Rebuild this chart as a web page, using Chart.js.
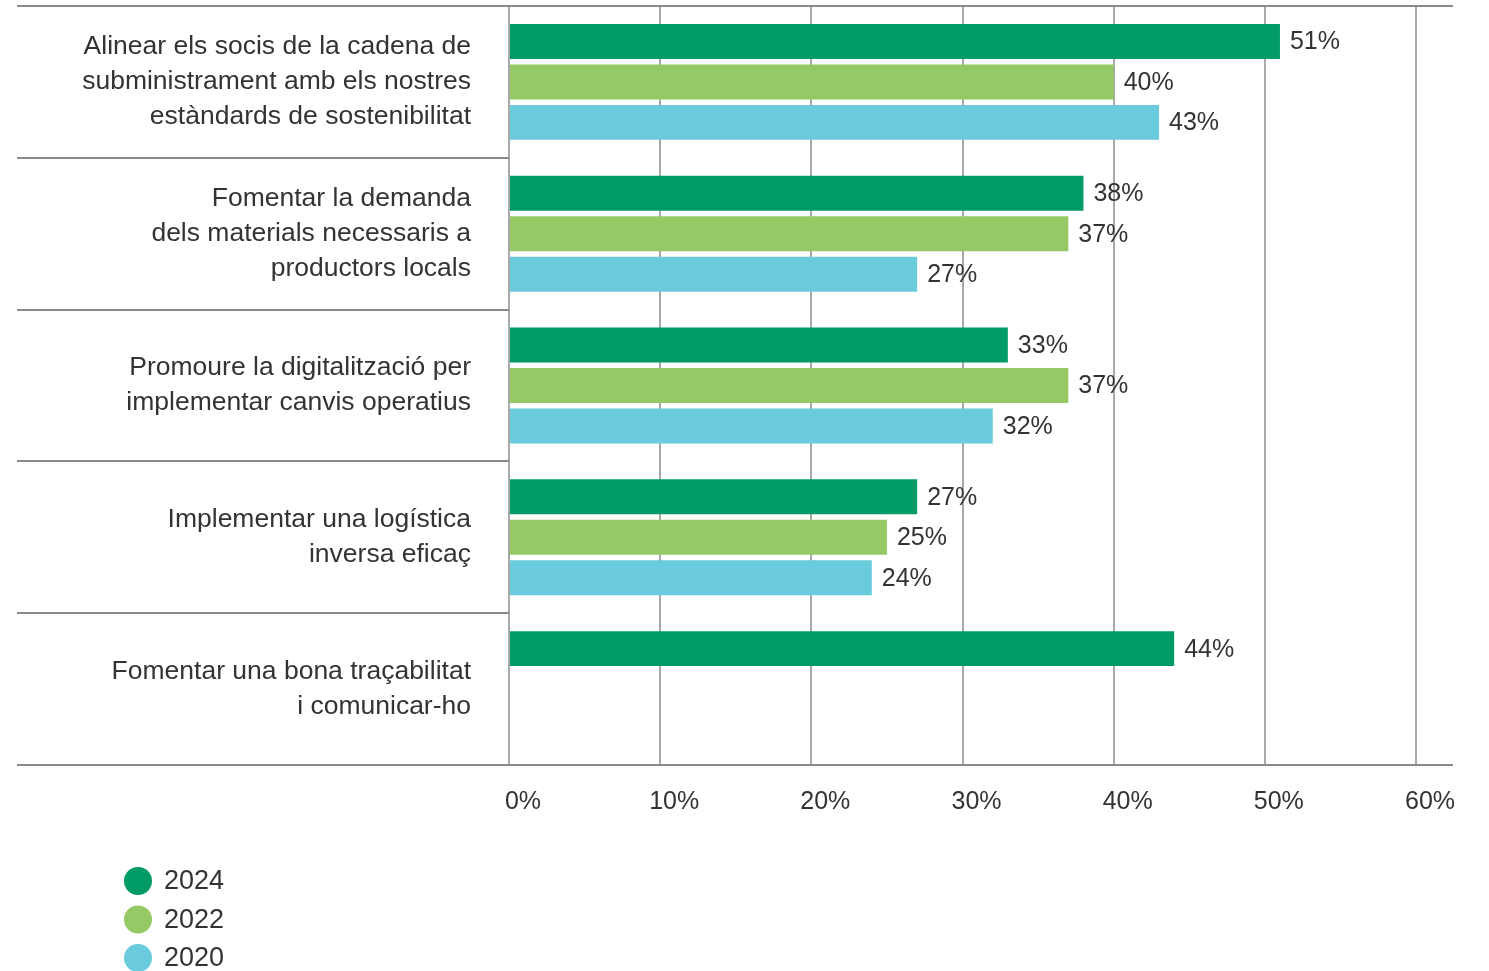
<!DOCTYPE html>
<html><head><meta charset="utf-8">
<script src="https://cdn.jsdelivr.net/npm/chart.js@4.4.1/dist/chart.umd.min.js"></script>
<style>html,body{margin:0;padding:0;background:#fff;} #wrap{width:1489px;height:971px;position:relative;}</style>
</head><body><div id="wrap"><canvas id="c"></canvas></div>
<script>
const categories = [
  ["Alinear els socis de la cadena de", "subministrament amb els nostres", "estàndards de sostenibilitat"],
  ["Fomentar la demanda", "dels materials necessaris a", "productors locals"],
  ["Promoure la digitalització per", "implementar canvis operatius"],
  ["Implementar una logística", "inversa eficaç"],
  ["Fomentar una bona traçabilitat", "i comunicar-ho"]
];
const seriesNames = ["2024", "2022", "2020"];
const values2024 = [51, 38, 33, 27, 44];
const values2022 = [40, 37, 37, 25, null];
const values2020 = [43, 27, 32, 24, null];
const tickValues = [0, 10, 20, 30, 40, 50, 60];
const seriesColors = ["#009b68", "#95c966", "#69cbdb"];

const FONT = "'Liberation Sans', Arial, sans-serif";
const TEXT = "#333333";

const rulesPlugin = {
  id: 'rules',
  afterDraw(chart) {
    const {ctx, chartArea, scales: {y}} = chart;
    const n = categories.length;
    const band = (y.getPixelForValue(n - 1) - y.getPixelForValue(0)) / (n - 1);
    ctx.save();
    ctx.strokeStyle = '#8a8a8a';
    ctx.lineWidth = 2;
    for (let i = 0; i <= n; i++) {
      const yy = Math.round(y.getPixelForValue(i) - band / 2);
      const full = (i === 0 || i === n);
      ctx.beginPath();
      ctx.moveTo(17, yy);
      ctx.lineTo(full ? chartArea.right + 37 : chartArea.left, yy);
      ctx.stroke();
    }
    ctx.restore();
  }
};

const valueLabels = {
  id: 'valueLabels',
  afterDatasetsDraw(chart) {
    const {ctx} = chart;
    ctx.save();
    ctx.font = "25px " + FONT;
    ctx.fillStyle = TEXT;
    ctx.textAlign = 'left';
    ctx.textBaseline = 'middle';
    chart.data.datasets.forEach((ds, di) => {
      chart.getDatasetMeta(di).data.forEach((el, i) => {
        const v = ds.data[i];
        if (v === null || v === undefined) return;
        ctx.fillText(v + '%', el.x + 10, el.y + 1);
      });
    });
    ctx.restore();
  }
};

const customLegend = {
  id: 'customLegend',
  afterDraw(chart) {
    const {ctx} = chart;
    ctx.save();
    ctx.font = "27px " + FONT;
    ctx.textAlign = 'left';
    ctx.textBaseline = 'middle';
    chart.data.datasets.forEach((ds, i) => {
      const cy = 881 + i * 38.5;
      ctx.fillStyle = ds.backgroundColor;
      ctx.beginPath();
      ctx.arc(138, cy, 14, 0, Math.PI * 2);
      ctx.fill();
      ctx.fillStyle = TEXT;
      ctx.fillText(ds.label, 164, cy + 1);
    });
    ctx.restore();
  }
};

new Chart(document.getElementById('c'), {
  type: 'bar',
  data: {
    labels: categories,
    datasets: [
      {label: seriesNames[0], data: values2024, backgroundColor: seriesColors[0]},
      {label: seriesNames[1], data: values2022, backgroundColor: seriesColors[1]},
      {label: seriesNames[2], data: values2020, backgroundColor: seriesColors[2]}
    ]
  },
  options: {
    indexAxis: 'y',
    responsive: true,
    maintainAspectRatio: false,
    animation: false,
    layout: {padding: {top: 6, right: 73, bottom: 146, left: 0}},
    datasets: {bar: {categoryPercentage: 0.80, barPercentage: 0.864}},
    plugins: {legend: {display: false}, tooltip: {enabled: false}},
    scales: {
      x: {
        min: 0, max: 60,
        afterBuildTicks: s => { s.ticks = tickValues.map(v => ({value: v})); },
        afterFit: s => { s.height = 60; s.paddingLeft = 0; s.paddingRight = 0; },
        border: {display: false},
        grid: {color: '#a9a9a9', lineWidth: 2, drawTicks: false},
        ticks: {
          callback: v => v + '%',
          padding: 22,
          labelOffset: 14,
          color: TEXT,
          font: {family: FONT, size: 25},
          maxRotation: 0
        }
      },
      y: {
        afterFit: s => { s.width = 509; s.paddingTop = 0; s.paddingBottom = 0; },
        border: {display: false},
        grid: {display: false},
        ticks: {
          padding: 30,
          color: TEXT,
          font: {family: FONT, size: 26.5, lineHeight: 1.32}
        }
      }
    }
  },
  plugins: [rulesPlugin, valueLabels, customLegend]
});
</script>
</body></html>
